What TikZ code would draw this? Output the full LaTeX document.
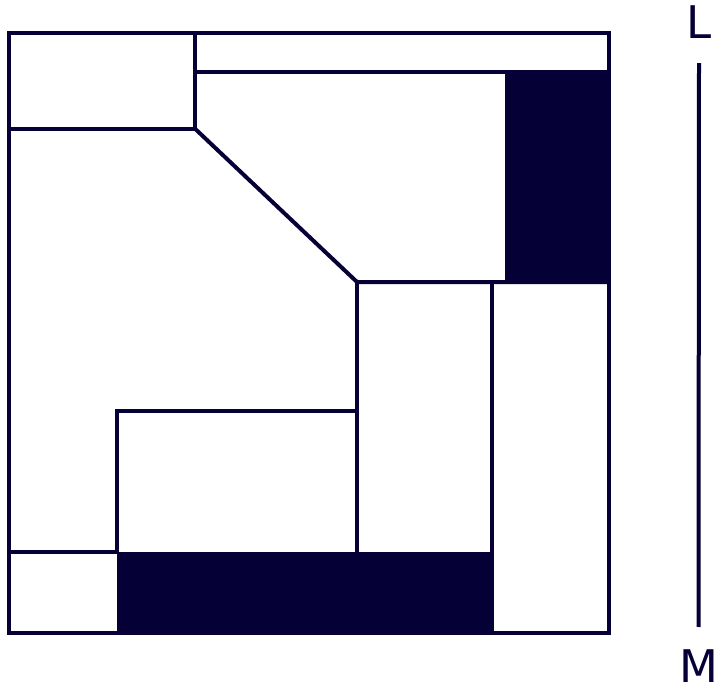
\documentclass[tikz,border=0pt]{standalone}
\usepackage{fontspec}
\setsansfont{DejaVu Sans}
\definecolor{ink}{HTML}{050035}
\tikzset{
	wall/.style = {draw = ink, line width = 4pt, line join = miter},
	dark/.style = {fill = ink},
	label/.style = {text = ink, inner sep = 0pt, anchor = base, font = \sffamily\fontsize{45}{54}\selectfont}
}

\begin{document}
\begin{tikzpicture}[x = 1pt, y = -1pt]
	\useasboundingbox (0,0) rectangle (720,687);

	% filled blocks
	\fill [dark] (505,71.7) rectangle (609,282);
	\fill [dark] (117,552) rectangle (492,633);

	% outline and inner walls
	\draw [wall] (9,33) rectangle (609,633);
	\draw [wall] (9,128.7) -- (195,128.7) -- (195,33);
	\draw [wall] (195,71.7) -- (609,71.7);
	\draw [wall] (195,128.7) -- (357,282) -- (609,282);
	\draw [wall] (357,282) -- (357,552);
	\draw [wall] (492,282) -- (492,633);
	\draw [wall] (357,411) -- (117,411) -- (117,552) -- (9,552);

	\node (L)[label] at (699,39) {L};
	\node (M)[label] at (698.5,682) {M};
	\draw [ink, line width = 4pt]([yshift = -24pt]L.south)--([yshift = 22pt]M.north);
\end{tikzpicture}
\end{document}
